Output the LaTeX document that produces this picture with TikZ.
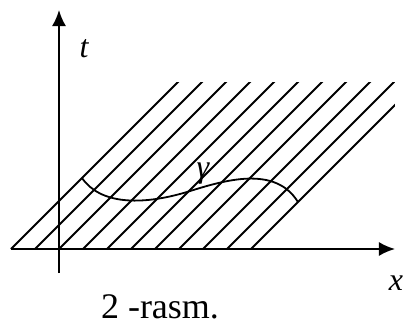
\documentclass[tikz,border=0pt]{standalone}
\usepackage{fontspec}
\setmainfont{Liberation Serif}
\usetikzlibrary{arrows.meta}
\begin{document}
\begin{tikzpicture}[
	x=0.5pt, y=-0.5pt,
	axis/.style={line width=1pt, -{Latex[length=8pt,width=7pt]}},
	ray/.style={line width=0.9pt},
	curve/.style={line width=0.9pt},
	lab/.style={font=\fontsize{16}{18}\selectfont\itshape, inner sep=0pt, anchor=base},
	captext/.style={font=\fontsize{18}{20}\selectfont, inner sep=0pt, anchor=base}
]
\useasboundingbox (0,0) rectangle (403,322);

% Axes
\coordinate (o)  at (59, 249);
\coordinate (xs) at (11, 249);
\coordinate (xe) at (395, 249);
\coordinate (ts) at (59, 273);
\coordinate (te) at (59, 10);
\draw[axis] (xs) -- (xe);
\draw[axis] (ts) -- (te);

% Characteristic lines at 45 degrees, clipped above and on the right
\begin{scope}
	\clip (0,82) rectangle (395,260);
	\foreach \k in {0,...,10}
		\draw[ray] (11+24*\k, 249) -- ++(170,-170);
\end{scope}

% Curve gamma
\coordinate (g0) at (82, 178);
\coordinate (g1) at (187, 192);
\coordinate (g2) at (298, 202);
\draw[curve] (g0) .. controls (100,204) and (140,206) .. (g1)
	.. controls (225,180) and (275,165) .. (g2);

% Labels
\node[lab] (tlab) at (84, 57)  {t};
\node[lab] (xlab) at (396, 290) {x};
\node[lab] (glab) at (203, 177) {γ};
\node[captext] (caption) at (160, 318) {2 -rasm.};

\end{tikzpicture}
\end{document}
